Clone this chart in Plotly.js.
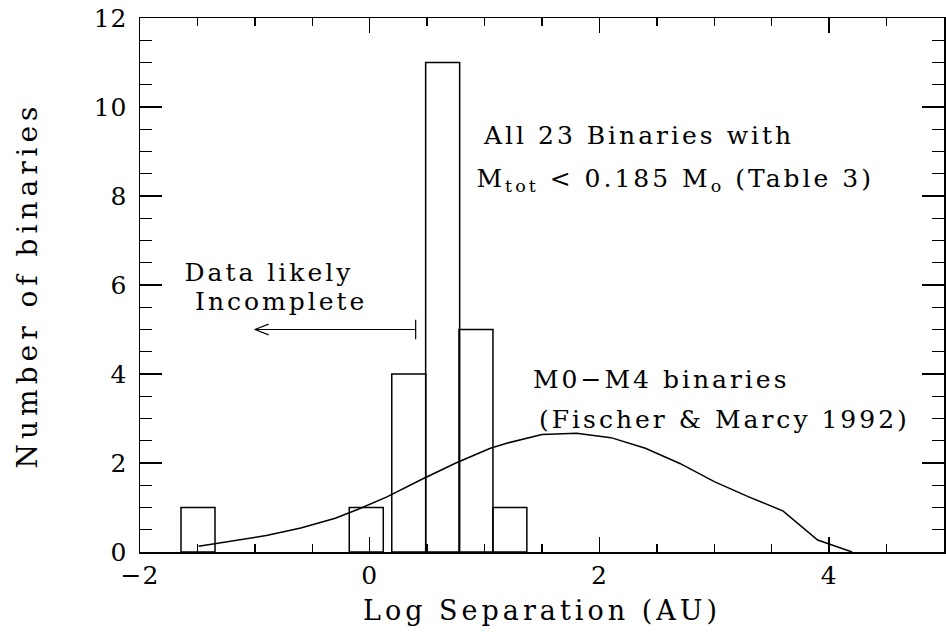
<!DOCTYPE html>
<html>
<head>
<meta charset="utf-8">
<script src="https://cdn.plot.ly/plotly-3.0.1.min.js"></script>
<style>
html,body{margin:0;padding:0;background:#fff}
#chart{width:946px;height:637px}
#chart .annotation-text{letter-spacing:3px}
#chart .xtitle{letter-spacing:4px}
#chart .ytitle{letter-spacing:5px}
#chart .xtick text,#chart .ytick text{letter-spacing:1px}
</style>
</head>
<body>
<div id="chart"></div>
<script>
// Histogram of observed binaries (bin centres in log AU, counts)
var binCenters = [-1.495, -0.03, 0.34, 0.635, 0.925, 1.22];
var binCounts  = [1, 1, 4, 11, 5, 1];
var binWidth   = 0.296;

// Fischer & Marcy 1992 M0-M4 distribution
var fmX = [-1.49, -1.2, -0.9, -0.6, -0.3, -0.1, 0.15, 0.45, 0.75, 1.05, 1.2, 1.5, 1.8, 2.1, 2.4, 2.7, 3.0, 3.3, 3.6, 3.9, 4.2];
var fmY = [0.13, 0.24, 0.37, 0.54, 0.76, 0.96, 1.24, 1.63, 2.0, 2.33, 2.45, 2.64, 2.67, 2.57, 2.33, 1.99, 1.58, 1.24, 0.92, 0.27, 0.0];

// "Data likely incomplete" arrow
var arrowX = [0.4, 0.4, null, 0.4, -1.0, null, -0.88, -1.0, -0.88];
var arrowY = [4.78, 5.22, null, 5.0, 5.0, null, 5.12, 5.0, 4.88];

var xTickVals = [-2, 0, 2, 4];
var yTickVals = [0, 2, 4, 6, 8, 10, 12];

var FONT = 'DejaVu Serif, Liberation Serif, serif';

var traces = [
  {type: 'bar', x: binCenters, y: binCounts, width: binWidth,
   marker: {color: 'rgba(255,255,255,0)', line: {color: '#000', width: 1.5}},
   hoverinfo: 'skip', showlegend: false},
  {type: 'scatter', mode: 'lines', x: fmX, y: fmY,
   line: {color: '#000', width: 1.5}, showlegend: false},
  {type: 'scatter', mode: 'lines', x: arrowX, y: arrowY,
   line: {color: '#000', width: 1.2}, showlegend: false}
];

var axisCommon = {
  showgrid: false, zeroline: false, showline: true, linecolor: '#000', linewidth: 1.5,
  mirror: 'allticks', ticks: 'inside', tickcolor: '#000', tickwidth: 1.3,
  tickfont: {family: FONT, size: 25, color: '#000'}
};

var annFont = {family: FONT, size: 25, color: '#000'};

var layout = {
  width: 946, height: 637,
  margin: {l: 140, r: 2, t: 18, b: 85},
  paper_bgcolor: '#fff', plot_bgcolor: '#fff',
  bargap: 0,
  xaxis: Object.assign({}, axisCommon, {
    range: [-2, 5], tickmode: 'array', tickvals: xTickVals, ticklen: 15,
    minor: {dtick: 0.5, ticks: 'inside', ticklen: 8, tickcolor: '#000', tickwidth: 1.3, showgrid: false},
    ticklabelstandoff: 0,
    title: {text: 'Log Separation (AU)', font: {family: FONT, size: 27, color: '#000'}, standoff: 12}
  }),
  yaxis: Object.assign({}, axisCommon, {
    range: [0, 12], tickmode: 'array', tickvals: yTickVals, ticklen: 22,
    minor: {dtick: 0.5, ticks: 'inside', ticklen: 12, tickcolor: '#000', tickwidth: 1.3, showgrid: false},
    ticklabelstandoff: 6,
    title: {text: 'Number of binaries', font: {family: FONT, size: 28, color: '#000'}, standoff: 50}
  }),
  annotations: [
    {x: 2.34, y: 9.37, xref: 'x', yref: 'y', xanchor: 'center', yanchor: 'middle', showarrow: false,
     text: 'All 23 Binaries with', font: annFont},
    {x: 2.66, y: 8.36, xref: 'x', yref: 'y', xanchor: 'center', yanchor: 'middle', showarrow: false,
     text: 'M<sub>tot</sub> < 0.185 M<sub>o</sub> (Table 3)', font: annFont},
    {x: -0.87, y: 6.29, xref: 'x', yref: 'y', xanchor: 'center', yanchor: 'middle', showarrow: false,
     text: 'Data likely', font: annFont},
    {x: -0.77, y: 5.62, xref: 'x', yref: 'y', xanchor: 'center', yanchor: 'middle', showarrow: false,
     text: 'Incomplete', font: annFont},
    {x: 2.535, y: 3.87, xref: 'x', yref: 'y', xanchor: 'center', yanchor: 'middle', showarrow: false,
     text: 'M0\u2212M4 binaries', font: annFont},
    {x: 3.09, y: 2.97, xref: 'x', yref: 'y', xanchor: 'center', yanchor: 'middle', showarrow: false,
     text: '(Fischer & Marcy 1992)', font: annFont}
  ]
};

Plotly.newPlot('chart', traces, layout, {displayModeBar: false, staticPlot: true});
</script>
</body>
</html>
